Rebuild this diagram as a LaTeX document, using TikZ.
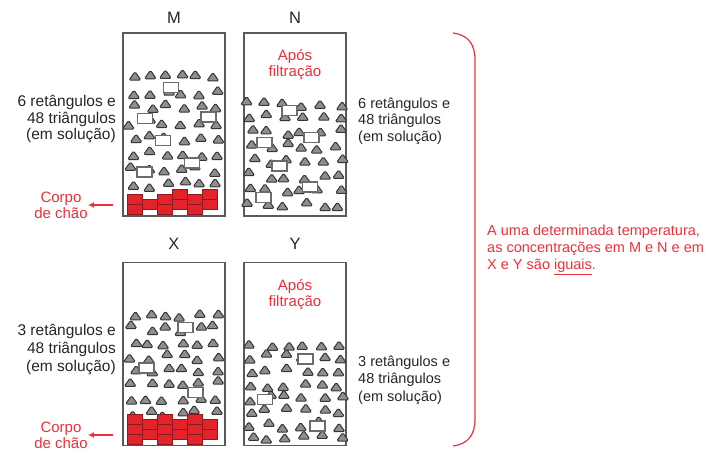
\documentclass[tikz,border=0pt]{standalone}
\usepackage{fontspec}
\usetikzlibrary{arrows.meta}
\setmainfont{Liberation Sans}
\definecolor{txtred}{HTML}{E8323C}
\definecolor{txtdark}{HTML}{262626}
\definecolor{solidred}{HTML}{E3232B}
\definecolor{solidedge}{HTML}{8E1A1E}
\definecolor{wallgray}{HTML}{5A5A5A}
\definecolor{grainfill}{HTML}{8E8E8E}
\definecolor{grainedge}{HTML}{353535}

% 48 dissolved triangles on a jittered 6 x 8 grid
\newcommand\grains[5]{%
  \pgfmathsetseed{#5}%
  \foreach \r in {0,...,7}{\foreach \c in {0,...,5}{%
    \pgfmathsetmacro\tx{#1+\c*#3+rand*4.5}%
    \pgfmathsetmacro\ty{#2+\r*#4+rand*4}%
    \path[tri] (\tx-6,\ty+4) -- (\tx+6,\ty+4) -- (\tx,\ty-4.5) -- cycle;}}}
% one block of the solid deposit
\newcommand\blk[2]{\path[solidblk] (#1,#2) rectangle ++(15,10);}

\begin{document}
\begin{tikzpicture}[x=1pt,y=-1pt,
  vessel/.style={draw=wallgray,line width=1.4pt,fill=white,minimum width=102pt,minimum height=183pt,inner sep=0pt},
  tri/.style={fill=grainfill,draw=grainedge,line width=1pt,rounded corners=1.5pt,line join=round},
  rectgrain/.style={draw=gray!85!black,line width=1.3pt,fill=white,minimum width=15pt,minimum height=10pt,inner sep=0pt},
  solidblk/.style={fill=solidred,draw=solidedge,line width=0.6pt},
  lbl/.style={text=txtdark,font=\fontsize{16.5}{16}\selectfont},
  side/.style={text=txtdark,font=\fontsize{14.5}{16.5}\selectfont,inner sep=0pt},
  redtxt/.style={text=txtred,font=\fontsize{15}{16}\selectfont,align=center,inner sep=0pt},
  redarrow/.style={draw=txtred,line width=1.6pt,-{Latex[length=6pt,width=6pt]}}
]
\useasboundingbox (0,0) rectangle (720,450);

% vessels
\node[vessel] (M) at (174,124.5) {};
\node[vessel] (N) at (295,124.5) {};
\node[vessel] (X) at (174,354) {};
\node[vessel] (Y) at (295,354) {};

% vessel letters
\node[lbl] (lM) at (174,18) {M};
\node[lbl] (lN) at (295,18) {N};
\node[lbl] (lX) at (174,244) {X};
\node[lbl] (lY) at (295,244) {Y};

% "after filtration" notes
\node[redtxt] (fN) at (295,65) {Após\\filtração};
\node[redtxt] (fY) at (295,295) {Após\\filtração};

% dissolved triangles
\grains{132}{76}{16.5}{15.5}{11}
\grains{251}{103}{17.5}{14.5}{23}
\grains{132}{314}{16.5}{14}{37}
\grains{251}{343}{17.5}{13.5}{41}

% dissolved rectangles
\foreach \p in {(171,87.5),(145,118.5),(208.5,117),(163,140.5),(192,163),(144.5,172)}
  \node[rectgrain] at \p {};
\foreach \p in {(289.5,110.5),(311.5,137.5),(264.5,142.5),(279.5,166),(310,187),(263.5,197.5)}
  \node[rectgrain] at \p {};
\foreach \p in {(185.5,327.5),(146.5,368),(195.5,392.5)}
  \node[rectgrain] at \p {};
\foreach \p in {(305.5,359),(265,399.5),(317.5,426)}
  \node[rectgrain] at \p {};

% solid deposit in M
\blk{127}{194}\blk{127}{204}
\blk{142}{199.5}
\blk{157}{194}\blk{157}{204}
\blk{172}{189}\blk{172}{199}
\blk{187}{194}\blk{187}{204}
\blk{202}{189}\blk{202}{199}
% solid deposit in X
\blk{127}{414}\blk{127}{424}\blk{127}{434}
\blk{142}{419}\blk{142}{429}
\blk{157}{414}\blk{157}{424}\blk{157}{434}
\blk{172}{419}\blk{172}{429}
\blk{187}{414}\blk{187}{424}\blk{187}{434}
\blk{202}{419}\blk{202}{429}

% contents of each solution
\node[side,align=right,anchor=east,font=\fontsize{15.5}{16.5}\selectfont] (sM) at (116,119) {6 retângulos e\\48 triângulos\\(em solução)};
\node[side,align=left,anchor=west] (sN) at (358,121) {6 retângulos e\\48 triângulos\\(em solução)};
\node[side,align=right,anchor=east,font=\fontsize{15.5}{18}\selectfont] (sX) at (116,349) {3 retângulos e\\48 triângulos\\(em solução)};
\node[side,align=left,anchor=west,font=\fontsize{14.5}{17.5}\selectfont] (sY) at (358,380) {3 retângulos e\\48 triângulos\\(em solução)};

% solid deposit labels and arrows
\node[redtxt] (cM) at (61,205) {Corpo\\de chão};
\node[redtxt] (cX) at (61,435) {Corpo\\de chão};
\coordinate (aM) at (113,205);
\coordinate (aX) at (113,435);
\draw[redarrow] (aM) -- (cM.east);
\draw[redarrow] (aX) -- (cX.east);

% brace grouping both pairs
\coordinate (bt) at (453,33);
\coordinate (bb) at (453,446);
\draw[txtred,line width=1.2pt] (bt) .. controls (468,35) and (475,44) .. (475,60)
  -- (475,419) .. controls (475,435) and (468,444) .. (bb);

% conclusion
\node[text=txtred,font=\fontsize{14.5}{17}\selectfont,align=left,anchor=north west,inner sep=0pt] (concl) at (487,225)
  {A uma determinada temperatura,\\as concentrações em M e N e em\\X e Y são \underline{iguais}.};
\end{tikzpicture}
\end{document}
